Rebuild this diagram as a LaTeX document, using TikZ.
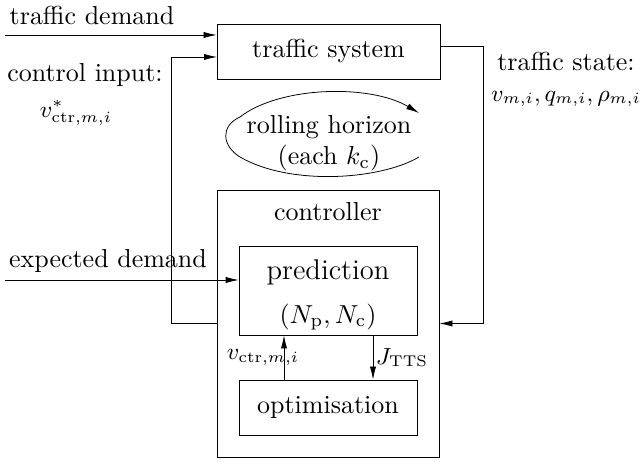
\documentclass[tikz,border=0pt]{standalone}
\usepackage{amsmath}
\usetikzlibrary{arrows.meta}

\tikzset{
  blk/.style={draw, rectangle, inner sep=0pt},
  lbl/.style={inner sep=1pt},
  var/.style={inner sep=1pt, font=\small},
  arr/.style={-{Latex[length=5pt,width=2.4pt]}}
}

\begin{document}
\begin{tikzpicture}[x=0.385pt, y=-0.385pt, line width=0.3pt]
  \useasboundingbox (0,0) rectangle (641,462);
  % blocks
  \node[blk, minimum width=85.9pt, minimum height=21.2pt] (sys) at (328.5,51.5) {traffic system};
  \node[blk, minimum width=85.5pt, minimum height=102.8pt] (ctrl) at (328,323.5) {};
  \node[lbl] (ctrlname) at (328,212) {controller};
  \node[blk, minimum width=68.5pt, minimum height=34.3pt] (pred) at (328,290.5) {};
  \node[lbl] (predname) at (328,272) {\fontsize{11}{13}\selectfont prediction};
  \node[lbl] (horiz) at (328,317) {$(N_{\mathrm{p}},N_{\mathrm{c}})$};
  \node[blk, minimum width=68.5pt, minimum height=21.2pt] (opt) at (328,407.5) {optimisation};
  % texts
  \node[lbl] (tdemtxt) at (92,15) {traffic demand};
  \node[lbl] (cintxt) at (85,75) {control input:};
  \node[var] (cinvar) at (76,113) {$v^*_{\mathrm{ctr},m,i}$};
  \node[lbl] (stxt) at (566,61) {traffic state:};
  \node[var] (svar) at (566,99) {$v_{m,i},q_{m,i},\rho_{m,i}$};
  \node[lbl] (edemtxt) at (108,261) {expected demand};
  \node[lbl, align=center] (roll) at (329,143) {rolling horizon\\(each $k_{\mathrm{c}}$)};
  % free ends
  \coordinate (tdem) at (5,35);
  \coordinate (edem) at (5,280);
  \coordinate (cin) at (217,57);
  \coordinate (sout) at (440,46);
  \coordinate (ux) at (284,0);
  \coordinate (dx) at (373,0);
  \coordinate (rs) at (419,157);
  \coordinate (re) at (419,113);
  % connectors
  \draw[arr] (tdem) -- (tdem -| sys.west);
  \draw[arr] (ctrl.west) -- ++(-45,0) |- (cin);
  \draw[arr] (sout) -- ++(43,0) |- (ctrl.east);
  \draw[arr] (edem) -- (edem -| pred.west);
  \draw[arr] (opt.north -| ux) -- node[var, left, xshift=7pt] {$v_{\mathrm{ctr},m,i}$} (pred.south -| ux);
  \draw[arr] (pred.south -| dx) -- node[var, right] {$J_{\mathrm{TTS}}$} (opt.north -| dx);
  % rolling horizon
  \draw[arr] (rs) .. controls (380,180) and (290,186) .. (240,157)
             .. controls (222,146) and (220,126) .. (240,117)
             .. controls (280,86) and (370,84) .. (re);
\end{tikzpicture}
\end{document}
